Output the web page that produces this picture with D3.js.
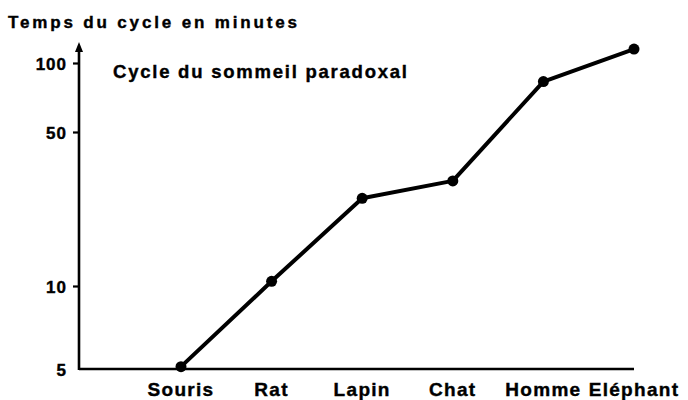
<!DOCTYPE html>
<html>
<head>
<meta charset="utf-8">
<script src="https://cdn.jsdelivr.net/npm/d3@7"></script>
<style>
  body { margin: 0; background: #fff; }
  text { font-family: "Liberation Sans", Arial, sans-serif; font-weight: bold; fill: #000; stroke: #000; stroke-width: 0.4px; }
</style>
</head>
<body>
<svg id="chart" width="688" height="400"></svg>
<script>
// data
const animals = ["Souris", "Rat", "Lapin", "Chat", "Homme", "Eléphant"];
const cycleMinutes = [5.1, 10.5, 25, 30, 83, 115];
const yTicks = [5, 10, 50, 100];

const svg = d3.select("#chart");

// axis origin and extents
const x0 = 79, yBase = 369, yTop = 42;

const x = d3.scalePoint()
    .domain(animals)
    .range([181, 634]);

// the printed axis is not a perfect log grid, so pin each tick where it was drawn
const y = d3.scaleLog()
    .domain(yTicks)
    .range([369, 286, 132, 63]);

// y axis line with arrow
svg.append("line")
    .attr("x1", x0).attr("x2", x0)
    .attr("y1", yBase + 1).attr("y2", yTop + 6)
    .attr("stroke", "#000")
    .attr("stroke-width", 2.6);

svg.append("path")
    .attr("d", `M${x0},${yTop} L${x0 - 4},${yTop + 10} L${x0 + 4},${yTop + 10} Z`)
    .attr("fill", "#000");

// x axis line
svg.append("line")
    .attr("x1", x0).attr("x2", 634)
    .attr("y1", yBase).attr("y2", yBase)
    .attr("stroke", "#000")
    .attr("stroke-width", 2.6);

// y ticks and labels
const yAxis = svg.append("g")
    .attr("transform", `translate(${x0},0)`)
    .call(d3.axisLeft(y).tickValues(yTicks).tickFormat(d3.format("d")).tickSize(6).tickPadding(6));

yAxis.select(".domain").remove();
yAxis.selectAll(".tick line")
    .attr("stroke", "#000")
    .attr("stroke-width", 2.2)
    .attr("display", d => d === 5 ? "none" : null);
yAxis.selectAll(".tick text")
    .attr("font-size", 17)
    .attr("font-family", "Liberation Sans, Arial, sans-serif")
    .attr("font-weight", "bold")
    .style("letter-spacing", "1px")
    .attr("dy", "0.36em");

// category labels
svg.append("g")
    .selectAll("text")
    .data(animals)
    .join("text")
    .attr("x", d => x(d))
    .attr("y", 396)
    .attr("text-anchor", "middle")
    .attr("font-size", 19)
    .style("letter-spacing", "1.3px")
    .text(d => d);

// line and dots
const line = d3.line()
    .x((d, i) => x(animals[i]))
    .y(d => y(d));

svg.append("path")
    .datum(cycleMinutes)
    .attr("fill", "none")
    .attr("stroke", "#000")
    .attr("stroke-width", 4)
    .attr("stroke-linejoin", "round")
    .attr("d", line);

svg.append("g")
    .selectAll("circle")
    .data(cycleMinutes)
    .join("circle")
    .attr("cx", (d, i) => x(animals[i]))
    .attr("cy", d => y(d))
    .attr("r", 5.5)
    .attr("fill", "#000");

// titles
svg.append("text")
    .attr("x", 8)
    .attr("y", 28)
    .attr("font-size", 17)
    .attr("textLength", 289)
    .attr("lengthAdjust", "spacing")
    .text("Temps du cycle en minutes");

svg.append("text")
    .attr("x", 113)
    .attr("y", 78)
    .attr("font-size", 18.5)
    .attr("textLength", 294)
    .attr("lengthAdjust", "spacing")
    .text("Cycle du sommeil paradoxal");
</script>
</body>
</html>
